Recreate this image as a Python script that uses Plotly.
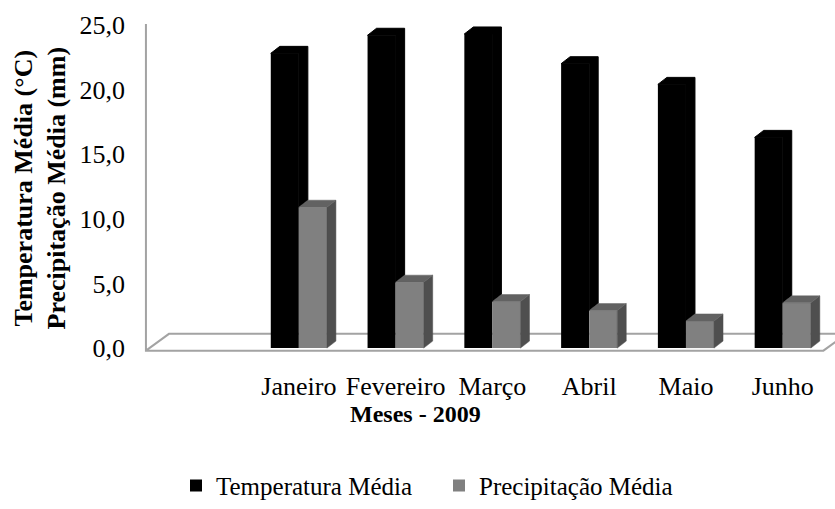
import plotly.graph_objects as go

# Monthly means, first half of 2009
months = ["Janeiro", "Fevereiro", "Março", "Abril", "Maio", "Junho"]
temperatura = [22.8, 24.2, 24.3, 22.0, 20.4, 16.3]   # °C
precipitacao = [10.9, 5.1, 3.6, 2.9, 2.1, 3.5]      # mm
y_ticks = [0, 5, 10, 15, 20, 25]

# category slots: slot 0 is left empty, months occupy 1..6
positions = list(range(1, len(months) + 1))

FONT = "'Liberation Serif', 'Times New Roman', Times, serif"
BLACK = "#000000"
GREY_FRONT = "#808080"
GREY_SIDE = "#4f4f4f"
GREY_TOP = "#626262"
WALL = "#a3a3a3"

# pseudo-3D geometry (in axis units)
bar_w = 0.29          # width of each column's front face
depth_dx = 0.093      # oblique depth offset of a column, x
depth_dy = 0.54       # oblique depth offset of a column, y
floor_dx = 0.238      # depth of the floor, x
floor_dy = 1.30       # depth of the floor, y
floor_y = -0.2        # front edge of the floor
x_range = [-0.6, 6.54]
y_range = [-0.69, 25.38]
x_wall = -0.58


def polys(shapes):
    xs, ys = [], []
    for pts in shapes:
        for px, py in pts:
            xs.append(px)
            ys.append(py)
        xs.append(pts[0][0])
        ys.append(pts[0][1])
        xs.append(None)
        ys.append(None)
    return xs, ys


fig = go.Figure()

# front faces of the columns
fig.add_trace(go.Bar(
    x=positions, y=temperatura, width=bar_w, offset=-bar_w,
    marker=dict(color=BLACK, line=dict(width=0)),
    name="Temperatura Média", hoverinfo="y",
))
fig.add_trace(go.Bar(
    x=positions, y=precipitacao, width=bar_w, offset=0,
    marker=dict(color=GREY_FRONT, line=dict(width=0)),
    name="Precipitação Média", hoverinfo="y",
))

# temperature columns: top face and the visible upper part of the side face
t_faces = []
for p, vt, vp in zip(positions, temperatura, precipitacao):
    x0, x1 = p - bar_w, p
    t_faces.append([(x0, vt), (x0 + depth_dx, vt + depth_dy),
                    (x1 + depth_dx, vt + depth_dy), (x1 + depth_dx, vp + depth_dy),
                    (x1, vp), (x1, vt)])
tx, ty = polys(t_faces)
fig.add_trace(go.Scatter(x=tx, y=ty, mode="lines", fill="toself",
                         fillcolor=BLACK, line=dict(width=1, color=BLACK),
                         showlegend=False, hoverinfo="skip"))

# precipitation columns: side and top faces
p_side, p_top = [], []
for p, vp in zip(positions, precipitacao):
    x0, x1 = p, p + bar_w
    p_side.append([(x1, 0), (x1 + depth_dx, depth_dy),
                   (x1 + depth_dx, vp + depth_dy), (x1, vp)])
    p_top.append([(x0, vp), (x0 + depth_dx, vp + depth_dy),
                  (x1 + depth_dx, vp + depth_dy), (x1, vp)])
sx, sy = polys(p_side)
fig.add_trace(go.Scatter(x=sx, y=sy, mode="lines", fill="toself",
                         fillcolor=GREY_SIDE, line=dict(width=0.5, color=GREY_SIDE),
                         showlegend=False, hoverinfo="skip"))
px_, py_ = polys(p_top)
fig.add_trace(go.Scatter(x=px_, y=py_, mode="lines", fill="toself",
                         fillcolor=GREY_TOP, line=dict(width=0.5, color=GREY_TOP),
                         showlegend=False, hoverinfo="skip"))

# left wall edge and floor outline
floor_w = 7.0
path = (
    f"M {x_wall},{y_ticks[-1] + 0.08} L {x_wall},{floor_y} "
    f"L {x_wall + floor_w},{floor_y} "
    f"L {x_wall + floor_w + floor_dx},{floor_y + floor_dy} "
    f"L {x_wall + floor_dx},{floor_y + floor_dy} L {x_wall},{floor_y}"
)
fig.add_shape(type="path", path=path, xref="x", yref="y",
              line=dict(color=WALL, width=2), layer="below")

fig.update_layout(
    width=835, height=509,
    margin=dict(l=144, r=0, t=20, b=149),
    paper_bgcolor="white", plot_bgcolor="white",
    separators=",.",
    barmode="overlay",
    font=dict(family=FONT, size=26, color=BLACK),
    showlegend=True,
    legend=dict(
        orientation="h", x=(176 - 144) / 691, xanchor="left",
        y=(360 - 490) / 340, yanchor="middle",
        font=dict(family=FONT, size=25, color=BLACK),
        entrywidth=218, entrywidthmode="pixels",
        bgcolor="rgba(0,0,0,0)", borderwidth=0,
    ),
    xaxis=dict(
        range=x_range, tickmode="array", tickvals=positions, ticktext=months,
        showgrid=False, zeroline=False, showline=False, ticks="",
        ticklabelstandoff=11, tickfont=dict(family=FONT, size=26, color=BLACK),
    ),
    yaxis=dict(
        range=y_range, tickmode="array", tickvals=y_ticks, tickformat=".1f",
        showgrid=False, zeroline=False, showline=False, ticks="",
        ticklabelstandoff=18, tickfont=dict(family=FONT, size=26, color=BLACK),
    ),
    annotations=[
        dict(text="<b>Temperatura Média (°C)<br>Precipitação Média (mm)</b>",
             textangle=-90, xref="paper", yref="paper",
             x=(40 - 144) / 691, y=0.5, xanchor="center", yanchor="middle",
             showarrow=False, font=dict(family=FONT, size=26, color=BLACK)),
        dict(text="<b>Meses - 2009</b>", xref="paper", yref="paper",
             x=(415 - 144) / 691, y=(360 - 418) / 340,
             xanchor="center", yanchor="middle", showarrow=False,
             font=dict(family=FONT, size=24, color=BLACK)),
    ],
)

fig.write_html("out.html")
